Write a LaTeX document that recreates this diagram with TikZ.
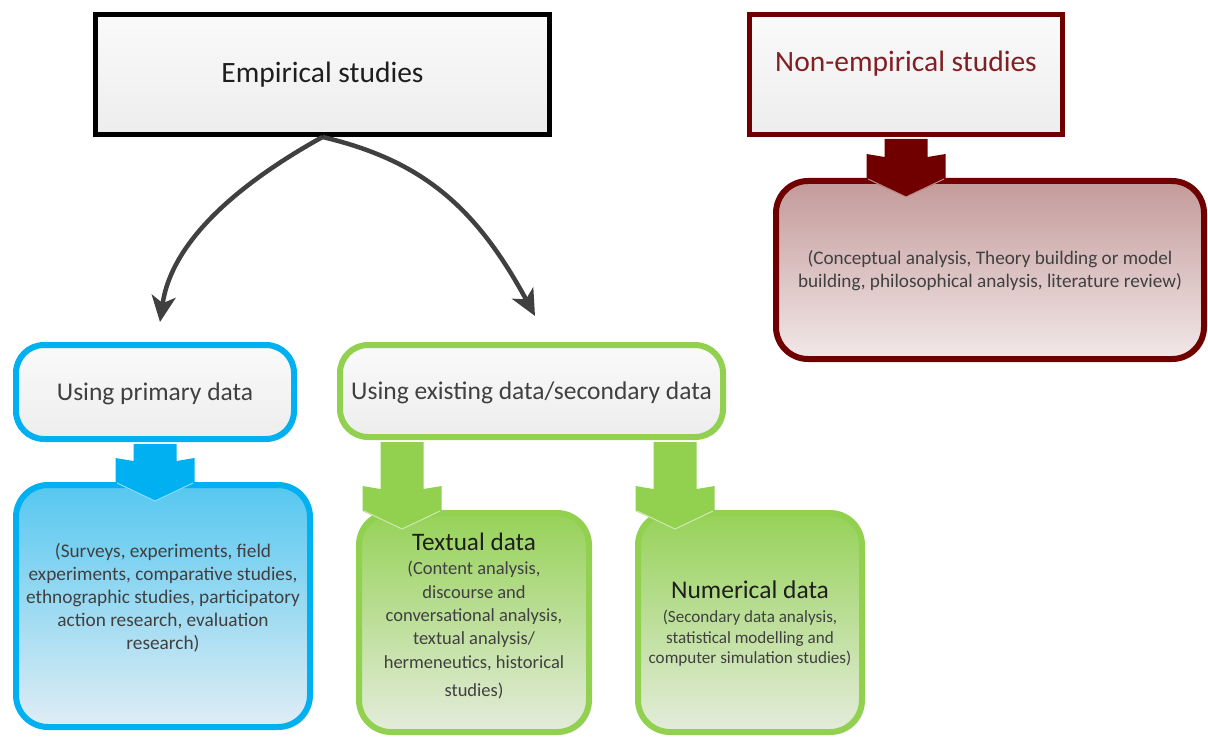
\documentclass[tikz,border=0pt]{standalone}
\usepackage{fontspec}
\setmainfont{Carlito}
\usepackage{tikz}
\usetikzlibrary{arrows.meta,positioning,calc,shadows}
\definecolor{skyline}{RGB}{0,176,240}
\definecolor{skytop}{RGB}{86,199,240}
\definecolor{skybot}{RGB}{224,237,244}
\definecolor{leafline}{RGB}{146,208,80}
\definecolor{leaftop}{RGB}{150,210,88}
\definecolor{leafbot}{RGB}{228,236,220}
\definecolor{wineline}{RGB}{112,0,0}
\definecolor{winetop}{RGB}{196,154,154}
\definecolor{winebot}{RGB}{242,232,232}
\definecolor{winetext}{RGB}{128,32,36}
\definecolor{bodytext}{RGB}{64,64,64}
\definecolor{headtext}{RGB}{30,30,30}
\definecolor{curvegrey}{RGB}{64,64,64}

% fat down arrow: colour, x, from node, to node
\newcommand{\blockarrow}[4]{%
  \fill[#1] let \p1=($(#3.south)+(0,2)$), \p2=($(#4.north)+(0,19)$) in
    (#2pt-21.5pt,\y1) -- (#2pt-21.5pt,\y2+40pt) -- (#2pt-39.5pt,\y2+43pt)
    -- (#2pt-39.5pt,\y2+18pt) -- (#2pt,\y2) -- (#2pt+39.5pt,\y2+18pt)
    -- (#2pt+39.5pt,\y2+43pt) -- (#2pt+21.5pt,\y2+40pt) -- (#2pt+21.5pt,\y1) -- cycle;
  \draw[white!55!#1,line width=1pt] let \p2=($(#4.north)+(0,19)$) in
    (#2pt-38pt,\y2+18pt) -- (#2pt,\y2) -- (#2pt+38pt,\y2+18pt);}

\begin{document}
\begin{tikzpicture}[x=1pt,y=-1pt,
  shadowed/.style={drop shadow={shadow xshift=2.5pt,shadow yshift=-2.5pt,opacity=0.15,fill=black}},
  titlebox/.style={shadowed,line width=5pt,top color=white!98!black,bottom color=white!93!black,
    minimum height=120pt,font=\fontsize{29.5}{32}\selectfont},
  subbox/.style={shadowed,line width=6pt,rounded corners=28pt,top color=white!98!black,
    bottom color=white!93!black,text=bodytext,
    text depth=0pt,font=\fontsize{25.5}{28}\selectfont},
  detailbox/.style={shadowed,line width=6pt,rounded corners=32pt,align=center,text=bodytext},
  curve/.style={curvegrey,line width=4.5pt,-{Stealth[length=26pt,width=24pt,inset=7pt]}}]
  \useasboundingbox (0,0) rectangle (1208,738);

  % top level
  \node[titlebox,draw=black,text=headtext,minimum width=454pt] (emp) at (322.5,74.5) {Empirical studies};
  \node[titlebox,draw=wineline,text=winetext,minimum width=313pt,text depth=27pt] (nonemp) at (906,74.5) {Non-empirical studies};

  % second level
  \node[subbox,draw=skyline,minimum width=278pt,minimum height=94pt] (prim) at (155,392) {Using primary data};
  \node[subbox,draw=leafline,minimum width=383pt,minimum height=92pt] (exist) at (531.5,391) {Using existing data/secondary data};

  % detail boxes
  \node[detailbox,draw=skyline,top color=skytop,bottom color=skybot,minimum width=294pt,minimum height=242pt,
    text depth=19pt,font=\fontsize{19.3}{23}\selectfont] (primdet) at (163,606)
    {(Surveys, experiments, field\\experiments, comparative studies,\\ethnographic studies, participatory\\action research, evaluation\\research)};
  \node[detailbox,draw=leafline,top color=leaftop,bottom color=leafbot,minimum width=230pt,minimum height=219pt,
    text depth=16pt,font=\fontsize{18.5}{23.3}\selectfont] (textual) at (474,622.5)
    {{\color{headtext}\fontsize{25.2}{26}\selectfont Textual data}\\[1.5pt](Content analysis,\\discourse and\\conversational analysis,\\textual analysis/\\hermeneutics, historical\\[5pt]studies)};
  \node[detailbox,draw=leafline,top color=leaftop,bottom color=leafbot,minimum width=224pt,minimum height=219pt,
    text depth=-6pt,font=\fontsize{17.1}{20.5}\selectfont] (numer) at (750,622.5)
    {{\color{headtext}\fontsize{25.5}{26}\selectfont Numerical data}\\[3.5pt](Secondary data analysis,\\statistical modelling and\\computer simulation studies)};
  \node[detailbox,draw=wineline,top color=winetop,bottom color=winebot,minimum width=428pt,minimum height=178pt,
    text depth=2pt,font=\fontsize{19.2}{23.5}\selectfont] (nonempdet) at (990,270)
    {(Conceptual analysis, Theory building or model\\building, philosophical analysis, literature review)};

  % fat arrows
  \blockarrow{skyline}{155}{prim}{primdet}
  \blockarrow{leafline}{402}{exist}{textual}
  \blockarrow{leafline}{675}{exist}{numer}
  \blockarrow{wineline}{906}{nonemp}{nonempdet}

  % curved arrows
  \coordinate (lefttip) at (160,322);
  \coordinate (righttip) at (535,316);
  \draw[curve] (emp.south) .. controls (245,180) and (172,238) .. (lefttip);
  \draw[curve] (emp.south) .. controls (420,160) and (475,205) .. (righttip);
\end{tikzpicture}
\end{document}
